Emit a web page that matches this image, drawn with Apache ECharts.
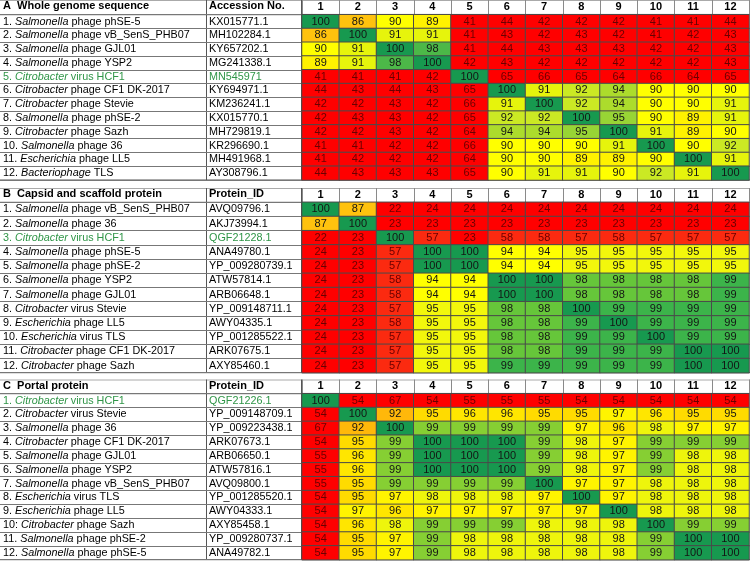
<!DOCTYPE html>
<html><head><meta charset="utf-8">
<script src="https://cdn.jsdelivr.net/npm/echarts@6/dist/echarts.min.js"></script>
<style>html,body{margin:0;padding:0;background:#fff}#c{width:750px;height:561px}</style>
</head><body><div id="c"></div>
<script>
// ---------- DATA ----------
const colLabels = ['1','2','3','4','5','6','7','8','9','10','11','12'];

const titleA = 'Whole genome sequence';
const idHeadA = 'Accession No.';
const namesA = ['1. Salmonella phage phSE-5','2. Salmonella phage vB_SenS_PHB07','3. Salmonella phage GJL01','4. Salmonella phage YSP2','5. Citrobacter virus HCF1','6. Citrobacter phage CF1 DK-2017','7. Citrobacter phage Stevie','8. Salmonella phage phSE-2','9. Citrobacter phage Sazh','10. Salmonella phage 36','11. Escherichia phage LL5','12. Bacteriophage TLS'];
const idsA = ['KX015771.1','MH102284.1','KY657202.1','MG241338.1','MN545971','KY694971.1','KM236241.1','KX015770.1','MH729819.1','KR296690.1','MH491968.1','AY308796.1'];
const valuesA = [
 [100,86,90,89,41,44,42,42,42,41,41,44],
 [86,100,91,91,41,43,42,43,42,41,42,43],
 [90,91,100,98,41,44,43,43,43,42,42,43],
 [89,91,98,100,42,43,42,42,42,42,42,43],
 [41,41,41,42,100,65,66,65,64,66,64,65],
 [44,43,44,43,65,100,91,92,94,90,90,90],
 [42,42,43,42,66,91,100,92,94,90,90,91],
 [42,43,43,42,65,92,92,100,95,90,89,91],
 [42,42,43,42,64,94,94,95,100,91,89,90],
 [41,41,42,42,66,90,90,90,91,100,90,92],
 [41,42,42,42,64,90,90,89,89,90,100,91],
 [44,43,43,43,65,90,91,91,90,92,91,100]
];
const highlightA = 4;

const titleB = 'Capsid and scaffold protein';
const idHeadB = 'Protein_ID';
const namesB = ['1. Salmonella phage vB_SenS_PHB07','2. Salmonella phage 36','3. Citrobacter virus HCF1','4. Salmonella phage phSE-5','5. Salmonella phage phSE-2','6. Salmonella phage YSP2','7. Salmonella phage GJL01','8. Citrobacter virus Stevie','9. Escherichia phage LL5','10. Escherichia virus TLS','11. Citrobacter phage CF1 DK-2017','12. Citrobacter phage Sazh'];
const idsB = ['AVQ09796.1','AKJ73994.1','QGF21228.1','ANA49780.1','YP_009280739.1','ATW57814.1','ARB06648.1','YP_009148711.1','AWY04335.1','YP_001285522.1','ARK07675.1','AXY85460.1'];
const valuesB = [
 [100,87,22,24,24,24,24,24,24,24,24,24],
 [87,100,23,23,23,23,23,23,23,23,23,23],
 [22,23,100,57,23,58,58,57,58,57,57,57],
 [24,23,57,100,100,94,94,95,95,95,95,95],
 [24,23,57,100,100,94,94,95,95,95,95,95],
 [24,23,58,94,94,100,100,98,98,98,98,99],
 [24,23,58,94,94,100,100,98,98,98,98,99],
 [24,23,57,95,95,98,98,100,99,99,99,99],
 [24,23,58,95,95,98,98,99,100,99,99,99],
 [24,23,57,95,95,98,98,99,99,100,99,99],
 [24,23,57,95,95,98,98,99,99,99,100,100],
 [24,23,57,95,95,99,99,99,99,99,100,100]
];
const highlightB = 2;

const titleC = 'Portal protein';
const idHeadC = 'Protein_ID';
const namesC = ['1. Citrobacter virus HCF1','2. Citrobacter virus Stevie','3. Salmonella phage 36','4. Citrobacter phage CF1 DK-2017','5. Salmonella phage GJL01','6. Salmonella phage YSP2','7. Salmonella phage vB_SenS_PHB07','8. Escherichia virus TLS','9. Escherichia phage LL5','10: Citrobacter phage Sazh','11. Salmonella phage phSE-2','12. Salmonella phage phSE-5'];
const idsC = ['QGF21226.1','YP_009148709.1','YP_009223438.1','ARK07673.1','ARB06650.1','ATW57816.1','AVQ09800.1','YP_001285520.1','AWY04333.1','AXY85458.1','YP_009280737.1','ANA49782.1'];
const valuesC = [
 [100,54,67,54,55,55,55,54,54,54,54,54],
 [54,100,92,95,96,96,95,95,97,96,95,95],
 [67,92,100,99,99,99,99,97,96,98,97,97],
 [54,95,99,100,100,100,99,98,97,99,99,99],
 [55,96,99,100,100,100,99,98,97,99,98,98],
 [55,96,99,100,100,100,99,98,97,99,98,98],
 [55,95,99,99,99,99,100,97,97,98,98,98],
 [54,95,97,98,98,98,97,100,97,98,98,98],
 [54,97,96,97,97,97,97,97,100,98,98,98],
 [54,96,98,99,99,99,98,98,98,100,99,99],
 [54,95,97,99,98,98,98,98,98,99,100,100],
 [54,95,97,99,98,98,98,98,98,99,100,100]
];
const highlightC = 0;

// ---------- STYLE / LAYOUT ----------
const FONT = '"Liberation Sans", Arial, Helvetica, sans-serif';
const FS = 10.8;
const GREEN_TXT = '#2f9547';
const piecesA = [
 {lte:70,color:'#ff0000'},{gt:70,lte:87,color:'#ffc20e'},{value:89,color:'#fff200'},{value:90,color:'#ffff00'},
 {value:91,color:'#e6f40c'},{value:92,color:'#cbe924'},{value:94,color:'#acdc2c'},{value:95,color:'#98d435'},
 {value:98,color:'#4cb848'},{value:100,color:'#17994f'}
];
const piecesB = [
 {lte:30,color:'#ff0000'},{gt:30,lte:70,color:'#fb2a10'},{gt:70,lte:90,color:'#ffc20e'},{value:94,color:'#ffff00'},
 {value:95,color:'#f2f70c'},{value:98,color:'#66c63a'},{value:99,color:'#3cb44a'},{value:100,color:'#17994f'}
];
const piecesC = [
 {lte:70,color:'#ff0000'},{value:92,color:'#ffb80a'},{value:95,color:'#ffdb00'},{value:96,color:'#ffe600'},
 {value:97,color:'#fff400'},{value:98,color:'#eef50c'},{value:99,color:'#86cf33'},{value:100,color:'#17994f'}
];

const sections = [
 {letter:'A',title:titleA,idHead:idHeadA,names:namesA,ids:idsA,values:valuesA,hl:highlightA,pieces:piecesA,headTop:0,top:14.7,h:165.3},
 {letter:'B',title:titleB,idHead:idHeadB,names:namesB,ids:idsB,values:valuesB,hl:highlightB,pieces:piecesB,headTop:188,top:202.3,h:170.4},
 {letter:'C',title:titleC,idHead:idHeadC,names:namesC,ids:idsC,values:valuesC,hl:highlightC,pieces:piecesC,headTop:379.5,top:393.7,h:166}
];

const HEAT_L = 302, HEAT_W = 447, NAME_W = 302, ID_X = 206;

const grid = [], xAxis = [], yAxis = [], series = [], visualMap = [], graphic = [];
const gray = '#8a8a8a';

sections.forEach((s, si) => {
  grid.push({left:HEAT_L, top:s.top, width:HEAT_W, height:s.h});
  grid.push({left:0, top:s.top, width:NAME_W, height:s.h});
  xAxis.push({type:'category', gridIndex:2*si, data:colLabels, position:'top',
    axisLine:{show:true,lineStyle:{color:'#222',width:1}},
    axisTick:{show:true,length:s.top-s.headTop,interval:0,lineStyle:{color:gray}},
    axisLabel:{interval:0,margin:2,fontFamily:FONT,fontWeight:'bold',fontSize:11,color:'#000'},
    splitLine:{show:false}});
  xAxis.push({type:'value', gridIndex:2*si+1, min:0, max:NAME_W, show:false});
  yAxis.push({type:'category', gridIndex:2*si, data:s.names, inverse:true, show:false});
  const hl = s.hl;
  yAxis.push({type:'category', gridIndex:2*si+1, data:s.names, inverse:true, position:'left',
    axisLine:{show:false}, axisTick:{show:false},
    splitLine:{show:true,interval:0,lineStyle:{color:'#777',width:1}},
    axisLabel:{inside:true, margin:3, align:'left', interval:0, fontFamily:FONT, fontSize:FS,
      formatter:(v,i)=>{
        const m = v.match(/^(\S+)\s+(\S+)\s*(.*)$/);
        const g = (i===hl)?'g':'';
        return '{'+g+'n|'+m[1]+' }{'+g+'i|'+m[2]+'}{'+g+'n| '+m[3]+'}';
      },
      rich:{n:{color:'#000',fontFamily:FONT,fontSize:FS},i:{color:'#000',fontStyle:'italic',fontFamily:FONT,fontSize:FS},
            gn:{color:GREEN_TXT,fontFamily:FONT,fontSize:FS},gi:{color:GREEN_TXT,fontStyle:'italic',fontFamily:FONT,fontSize:FS}}}});
  yAxis.push({type:'category', gridIndex:2*si+1, data:s.ids, inverse:true, position:'left',
    axisLine:{show:false}, axisTick:{show:false}, splitLine:{show:false},
    axisLabel:{inside:true, margin:ID_X+3, align:'left', interval:0, fontFamily:FONT, fontSize:FS,
      formatter:(v,i)=> (i===hl ? '{g|'+v+'}' : '{n|'+v+'}'),
      rich:{n:{color:'#000',fontFamily:FONT,fontSize:FS},g:{color:GREEN_TXT,fontFamily:FONT,fontSize:FS}}}});
  const data = [];
  s.values.forEach((row, r) => row.forEach((v, c) => data.push([c, r, v])));
  series.push({type:'heatmap', xAxisIndex:2*si, yAxisIndex:3*si, data,
    itemStyle:{borderColor:'#4a4a4a', borderWidth:1},
    label:{show:true, fontFamily:FONT, fontSize:11,
      formatter:p=> (p.value[2] < 70 ? '{r|'+p.value[2]+'}' : '{n|'+p.value[2]+'}'),
      rich:{r:{color:'#6a0000',fontFamily:FONT,fontSize:11},n:{color:'#141414',fontFamily:FONT,fontSize:11}}},
    emphasis:{disabled:true}});
  visualMap.push({type:'piecewise', show:false, seriesIndex:si, dimension:2, pieces:s.pieces});
  // decoration: header text & lines
  const hc = (s.headTop + s.top)/2;
  graphic.push({type:'text', left:3, top:hc-6.5, style:{text:s.letter+'  '+s.title, font:'bold 11px '+FONT, fill:'#000'}});
  graphic.push({type:'text', left:ID_X+3, top:hc-6.5, style:{text:s.idHead, font:'bold 11px '+FONT, fill:'#000'}});
  graphic.push({type:'line', shape:{x1:0,y1:s.headTop+0.5,x2:750,y2:s.headTop+0.5}, style:{stroke:'#aaa',lineWidth:1}});
  graphic.push({type:'line', shape:{x1:0,y1:s.top,x2:HEAT_L,y2:s.top}, style:{stroke:'#555',lineWidth:1}});
  graphic.push({type:'line', shape:{x1:0,y1:s.top+s.h,x2:750,y2:s.top+s.h}, style:{stroke:'#555',lineWidth:1}});
  graphic.push({type:'line', shape:{x1:ID_X+0.5,y1:s.headTop,x2:ID_X+0.5,y2:s.top+s.h}, style:{stroke:'#555',lineWidth:1}});
  graphic.push({type:'line', shape:{x1:HEAT_L-0.5,y1:s.headTop,x2:HEAT_L-0.5,y2:s.top+s.h}, style:{stroke:'#555',lineWidth:1}});
});

const chart = echarts.init(document.getElementById('c'), null, {renderer:'canvas'});
chart.setOption({animation:false, backgroundColor:'#fff', grid, xAxis, yAxis, series, visualMap, graphic});
</script>
</body></html>
